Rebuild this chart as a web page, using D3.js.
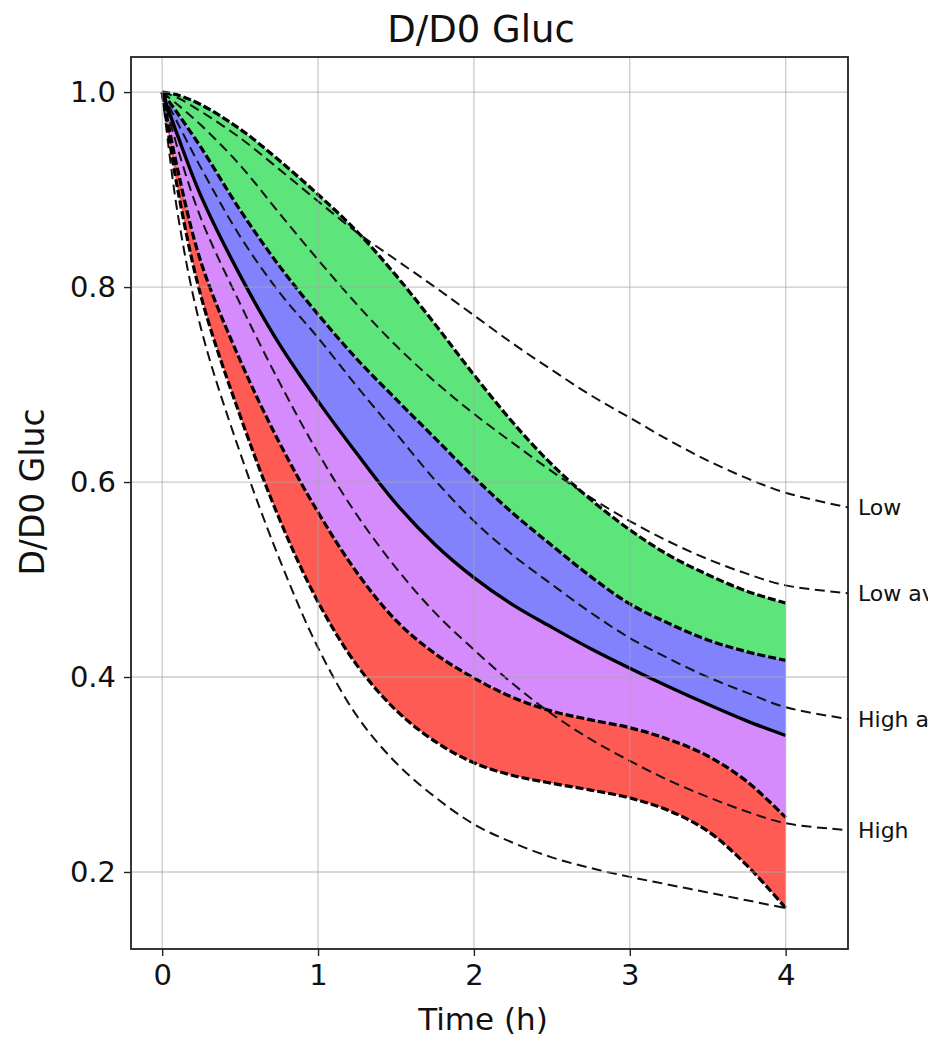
<!DOCTYPE html>
<html><head><meta charset="utf-8">
<script src="https://cdn.jsdelivr.net/npm/d3@7/dist/d3.min.js"></script>
<style>
body{margin:0;background:#fff}
text{font-family:"DejaVu Sans",sans-serif;fill:#111}
</style>
</head><body>
<svg id="c" width="928" height="1043"></svg>
<script>
// ---- data ----
const times = [0, 0.1, 0.25, 0.5, 0.75, 1, 1.25, 1.5, 1.75, 2, 2.25, 2.5, 2.75, 3, 3.25, 3.5, 3.75, 4];
const refTimes = times.concat([4.4]);

const greenUpper = [1.0, 0.997, 0.987, 0.962, 0.930, 0.895, 0.857, 0.812, 0.762, 0.710, 0.661, 0.618, 0.582, 0.551, 0.525, 0.505, 0.488, 0.476];
const greenLower = [1.0, 0.978, 0.943, 0.879, 0.822, 0.772, 0.726, 0.685, 0.645, 0.605, 0.568, 0.535, 0.503, 0.475, 0.455, 0.438, 0.426, 0.417];
const median     = [1.0, 0.955, 0.893, 0.812, 0.742, 0.683, 0.629, 0.578, 0.536, 0.502, 0.474, 0.451, 0.429, 0.409, 0.390, 0.372, 0.355, 0.340];
const redUpper   = [1.0, 0.920, 0.825, 0.725, 0.641, 0.569, 0.507, 0.458, 0.424, 0.399, 0.379, 0.365, 0.356, 0.348, 0.336, 0.319, 0.293, 0.256];
const redLower   = [1.0, 0.900, 0.790, 0.668, 0.563, 0.477, 0.412, 0.366, 0.334, 0.312, 0.299, 0.291, 0.284, 0.276, 0.263, 0.242, 0.207, 0.163];
const bottomRef  = [1.0, 0.875, 0.757, 0.630, 0.522, 0.430, 0.360, 0.312, 0.277, 0.249, 0.230, 0.215, 0.204, 0.195, 0.187, 0.179, 0.171, 0.163];

const lowRef     = [1.0, 0.994, 0.980, 0.953, 0.921, 0.888, 0.856, 0.828, 0.800, 0.771, 0.742, 0.715, 0.689, 0.666, 0.643, 0.622, 0.604, 0.589, 0.574];
const lowAvgRef  = [1.0, 0.987, 0.966, 0.925, 0.876, 0.828, 0.782, 0.740, 0.703, 0.670, 0.640, 0.611, 0.584, 0.560, 0.539, 0.521, 0.506, 0.494, 0.486];
const highAvgRef = [1.0, 0.968, 0.922, 0.852, 0.795, 0.748, 0.698, 0.650, 0.602, 0.560, 0.525, 0.495, 0.466, 0.440, 0.419, 0.400, 0.384, 0.369, 0.357];
const highRef    = [1.0, 0.942, 0.870, 0.783, 0.703, 0.630, 0.566, 0.512, 0.466, 0.428, 0.393, 0.362, 0.336, 0.314, 0.294, 0.277, 0.262, 0.250, 0.243];

const refLabels = ["Low", "Low avg", "High avg", "High"];
const xTicks = [0, 1, 2, 3, 4];
const yTicks = [0.2, 0.4, 0.6, 0.8, 1.0];
const titleText = "D/D0 Gluc";
const xLabel = "Time (h)";
const yLabel = "D/D0 Gluc";

// ---- drawing ----
const svg = d3.select("#c");
const L = 131, R = 848, T = 57, B = 949;
const x = d3.scaleLinear().domain([-0.2, 4.4]).range([L, R]);
const y = d3.scaleLinear().domain([0.121, 1.036]).range([B, T]);
const curve = d3.curveCatmullRom.alpha(0.5);

svg.append("rect").attr("width", 928).attr("height", 1043).attr("fill", "#fff");
svg.append("defs").append("clipPath").attr("id", "clip")
  .append("rect").attr("x", L).attr("y", T).attr("width", R - L).attr("height", B - T);

const plot = svg.append("g").attr("clip-path", "url(#clip)");

const band = (hi, lo) => times.map((t, i) => ({t, hi: hi[i], lo: lo[i]}));
const area = d3.area().x(d => x(d.t)).y0(d => y(d.lo)).y1(d => y(d.hi)).curve(curve);
const bands = [
  {hi: greenUpper, lo: greenLower, color: "#5de47b"},
  {hi: greenLower, lo: median, color: "#8282fd"},
  {hi: median, lo: redUpper, color: "#d58bfc"},
  {hi: redUpper, lo: redLower, color: "#fe5b55"}
];
bands.forEach(b => {
  plot.append("path").attr("d", area(band(b.hi, b.lo))).attr("fill", b.color);
});

// grid (drawn over fills, like matplotlib)
const grid = svg.append("g").attr("stroke", "#a8a8a8").attr("stroke-opacity", 0.6).attr("stroke-width", 1.3);
xTicks.forEach(t => grid.append("line").attr("x1", x(t)).attr("x2", x(t)).attr("y1", T).attr("y2", B));
yTicks.forEach(v => grid.append("line").attr("y1", y(v)).attr("y2", y(v)).attr("x1", L).attr("x2", R));

const line = (ts, vs) => d3.line().x((d, i) => x(ts[i])).y(d => d).curve(curve)(vs.map(v => y(v)));

// thin dashed reference curves
[lowRef, lowAvgRef, highAvgRef, highRef].forEach(s => {
  plot.append("path").attr("d", line(refTimes, s)).attr("fill", "none")
    .attr("stroke", "#111").attr("stroke-width", 2).attr("stroke-dasharray", "10,5.5");
});
plot.append("path").attr("d", line(times, bottomRef)).attr("fill", "none")
  .attr("stroke", "#111").attr("stroke-width", 2).attr("stroke-dasharray", "10,5.5");

// thick dashed band borders
[greenUpper, greenLower, redUpper, redLower].forEach(s => {
  plot.append("path").attr("d", line(times, s)).attr("fill", "none")
    .attr("stroke", "#000").attr("stroke-width", 3.2).attr("stroke-dasharray", "8,3");
});
// solid median
plot.append("path").attr("d", line(times, median)).attr("fill", "none")
  .attr("stroke", "#000").attr("stroke-width", 3.4);

// frame
svg.append("rect").attr("x", L).attr("y", T).attr("width", R - L).attr("height", B - T)
  .attr("fill", "none").attr("stroke", "#222").attr("stroke-width", 1.8);

// axes
const xAxis = svg.append("g").attr("transform", `translate(0,${B})`)
  .call(d3.axisBottom(x).tickValues(xTicks).tickFormat(d3.format("d")).tickSize(7).tickPadding(8));
const yAxis = svg.append("g").attr("transform", `translate(${L},0)`)
  .call(d3.axisLeft(y).tickValues(yTicks).tickFormat(d3.format(".1f")).tickSize(7).tickPadding(8));
[xAxis, yAxis].forEach(a => {
  a.select(".domain").remove();
  a.selectAll(".tick line").attr("stroke", "#222").attr("stroke-width", 1.4);
  a.selectAll(".tick text").attr("font-size", 29).attr("font-family", "DejaVu Sans").attr("fill", "#111");
});

// right-hand labels (cut at the picture edge, as in the reference)
refLabels.forEach((lab, i) => {
  const s = [lowRef, lowAvgRef, highAvgRef, highRef][i];
  svg.append("text").attr("x", 858).attr("y", y(s[s.length - 1])).attr("dy", "0.36em")
    .attr("font-size", 22).text(lab);
});

// title and axis labels
svg.append("text").attr("x", 481).attr("y", 42).attr("text-anchor", "middle")
  .attr("font-size", 37).text(titleText);
svg.append("text").attr("x", 483).attr("y", 1030).attr("text-anchor", "middle")
  .attr("font-size", 31).text(xLabel);
svg.append("text").attr("transform", "translate(44,492) rotate(-90)").attr("text-anchor", "middle")
  .attr("font-size", 33).text(yLabel);
</script>
</body></html>
